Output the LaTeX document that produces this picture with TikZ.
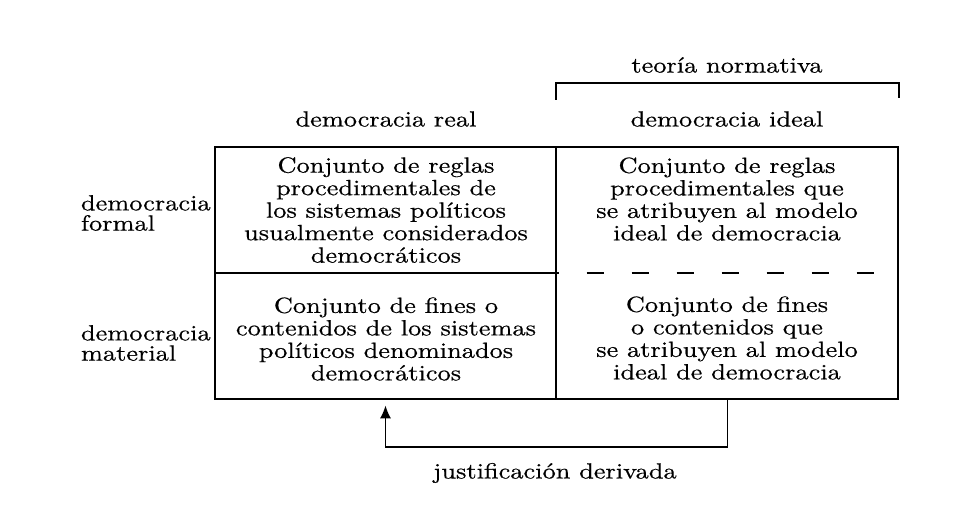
\documentclass[tikz,border=0pt]{standalone}
\usepackage{fontspec}
\setmainfont{lmroman10-regular.otf}[FakeStretch=1.2,FakeBold=0.5]
\usetikzlibrary{calc,arrows.meta,positioning}

\begin{document}
\begin{tikzpicture}[x=0.02cm,y=-0.02cm]

\tikzset{frame/.style={line width=1pt},
celltext/.style={font=\fontsize{12.5pt}{12.8pt}\selectfont,align=center,inner sep=0pt},
headtext/.style={font=\fontsize{12.5pt}{12.8pt}\selectfont,inner sep=0pt},
rowlabel/.style={font=\fontsize{12.5pt}{11.5pt}\selectfont,align=left,inner sep=0pt,anchor=east},
cell/.style={inner sep=0pt,minimum width=6.82cm,minimum height=2.52cm}}

\useasboundingbox (0,0) rectangle (958,506);

% cells
\node[cell] (c11) at (385.5,210) {};
\node[cell] (c12) at (727.5,210) {};
\node[cell] (c21) at (385.5,336) {};
\node[cell] (c22) at (727.5,336) {};

% grid
\draw[frame] (c11.north west) rectangle (c22.south east);
\draw[frame] (c11.north east) -- (c21.south east);
\draw[frame] (c11.south west) -- (c11.south east);
\draw[frame,dash pattern=on 0.34cm off 0.56cm,dash phase=-0.6cm] (c12.south west) -- (c12.south east);

% headings
\node[headtext] (real) at (386,119) {democracia real};
\node[headtext] (ideal) at (727,119) {democracia ideal};
\node[headtext] (tn) at (727,65) {teoría normativa};
\coordinate (bkl) at (556,100); \coordinate (bkr) at (899,98);
\draw[frame] (bkl) |- ($(bkr)+(0,-15)$) -- (bkr);

% row labels
\node[rowlabel] (formal) at (211,213) {democracia\\formal};
\node[rowlabel] (material) at (211,343) {democracia\\material};

% cell texts
\node[celltext] (t11) at (386,210) {Conjunto de reglas\\procedimentales de\\los sistemas políticos\\usualmente considerados\\democráticos};
\node[celltext] (t12) at (727,199) {Conjunto de reglas\\procedimentales que\\se atribuyen al modelo\\ideal de democracia};
\node[celltext] (t21) at (386,339) {Conjunto de fines o\\contenidos de los sistemas\\políticos denominados\\democráticos};
\node[celltext] (t22) at (727,338) {Conjunto de fines\\o contenidos que\\se atribuyen al modelo\\ideal de democracia};

% derived justification
\draw[frame,-{Latex[length=2.6mm,width=2.2mm]}] (c22.south) -- ++(0,48) -| ($(c21.south)+(0,6)$);
\node[headtext] (jd) at (555,473) {justificación derivada};

\end{tikzpicture}
\end{document}
